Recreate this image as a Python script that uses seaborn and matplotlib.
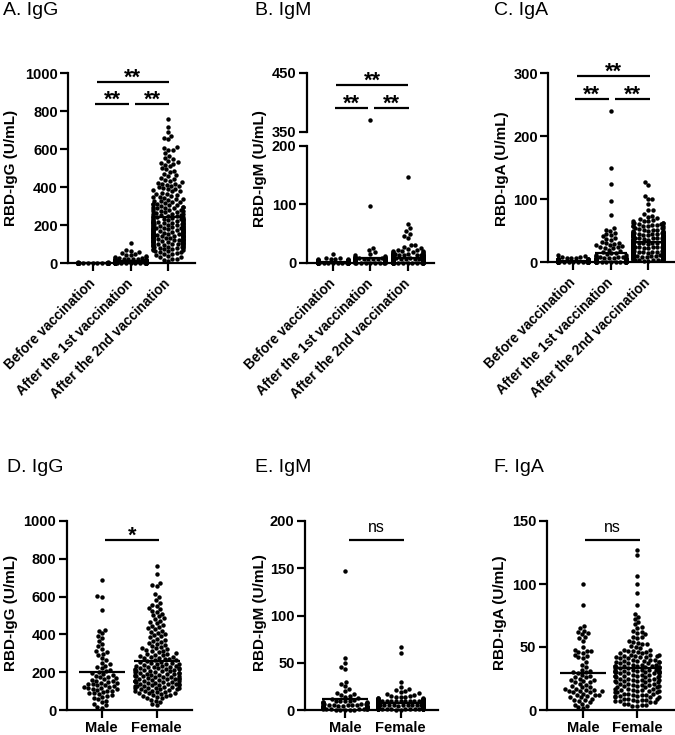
import numpy as np
import pandas as pd
import matplotlib
matplotlib.use("Agg")
import matplotlib.pyplot as plt
import seaborn as sns

# ---------------- data ----------------
time_labels = ["Before vaccination", "After the 1st vaccination", "After the 2nd vaccination"]
sex_labels = ["Male", "Female"]

igg_before = [1.2, 0.8, 2.1, 0.5, 1.6, 3.0, 0.9, 1.1, 2.4, 0.7,
              1.8, 0.6, 1.3, 2.7, 0.4, 1.0, 1.5, 2.2, 0.9, 3.4,
              0.3, 1.4, 2.0, 0.8, 1.1, 5.8, 0.6, 1.7, 2.5, 1.0,
              0.5, 1.2, 1.9, 0.7, 2.8, 1.3, 0.4, 1.6, 0.9, 2.3,
              1.1, 0.6, 3.8, 1.4, 0.8, 2.0, 0.5, 1.2, 1.7, 0.9,
              4.5, 1.0, 0.7, 2.6, 1.3, 0.4, 1.8, 1.1, 0.6, 2.1,
              0.9, 1.5, 3.1, 0.5, 1.2, 0.8, 2.4, 1.0, 0.3, 1.6,
              1.4, 0.7, 2.0, 1.1, 0.6, 2.9, 1.3, 0.9, 1.7, 0.5,
              1.0, 2.2, 0.8, 1.5, 0.4, 3.5, 1.2, 0.6, 1.9, 1.1,
              0.7, 1.4, 2.6, 0.9, 1.3, 0.5, 2.0, 1.0, 0.8, 4.1,
              1.6, 0.6, 1.2, 2.3, 0.9, 0.4, 1.8, 1.1, 0.7, 2.7,
              1.0, 1.5, 0.5, 2.1, 1.3, 0.8, 3.3, 0.6, 1.4, 0.9]
igg_first = [105, 72, 66, 60, 55, 50, 46, 42, 38, 35,
             32, 30, 28, 26, 25, 24, 22, 21, 20, 19,
             18, 18, 17, 16, 15, 15, 14, 14, 13, 13,
             12, 12, 12, 11, 11, 11, 10, 10, 10, 9.5,
             9, 9, 8.5, 8.5, 8, 8, 8, 7.5, 7.5, 7,
             7, 7, 6.5, 6.5, 6, 6, 6, 5.5, 5.5, 5.5,
             5, 5, 5, 4.8, 4.6, 4.5, 4.4, 4.2, 4, 4,
             3.8, 3.6, 3.5, 3.4, 3.3, 3.2, 3, 3, 2.9, 2.8,
             2.7, 2.6, 2.5, 2.5, 2.4, 2.3, 2.2, 2.1, 2, 2,
             1.9, 1.8, 1.7, 1.6, 1.5, 1.5, 1.4, 1.3, 1.2, 1.1,
             1, 1, 0.9, 0.9, 0.8, 0.8, 0.7, 0.6, 0.5, 0.4,
             9, 8, 7, 6, 5, 4, 3, 2.5, 2, 1.5]
igm_before = [15, 9, 8, 7, 6.5, 6, 5.5, 5, 5, 4.5,
              4.2, 4, 3.8, 3.5, 3.3, 3, 3, 2.8, 2.6, 2.5,
              2.4, 2.2, 2, 2, 1.9, 1.8, 1.7, 1.6, 1.5, 1.5,
              1.4, 1.3, 1.2, 1.1, 1.0, 1.0, 0.9, 0.8, 0.7, 0.6,
              2.1, 1.6, 0.9, 3.2, 1.4, 0.5, 2.7, 1.1, 0.8, 1.9,
              0.6, 1.3, 2.4, 0.4, 1.7, 3.6, 1.0, 0.7, 2.2, 1.2,
              4.8, 0.9, 1.5, 0.3, 2.0, 1.1, 0.6, 2.9, 1.4, 0.8,
              1.8, 0.5, 1.2, 3.9, 0.7, 1.6, 2.3, 0.9, 1.0, 0.4,
              2.6, 1.3, 0.6, 1.9, 5.6, 0.8, 1.5, 2.1, 0.5, 1.1,
              0.9, 3.1, 1.7, 0.6, 1.2, 2.5, 0.4, 1.4, 0.8, 2.0,
              1.0, 0.7, 4.4, 1.6, 0.5, 1.3, 2.8, 0.9, 1.1, 0.6,
              1.8, 0.4, 2.2, 1.0, 0.8, 3.4, 1.5, 0.6, 1.2, 7.5]
igm_first = [370, 97, 25, 22, 18, 15, 13, 12, 11, 10,
             9, 9, 8.5, 8, 8, 7.5, 7, 7, 6.5, 6.5,
             6, 6, 6, 5.5, 5.5, 5, 5, 5, 4.8, 4.6,
             4.5, 4.4, 4.2, 4, 4, 4, 3.8, 3.6, 3.5, 3.4,
             3.3, 3.2, 3, 3, 3, 2.9, 2.8, 2.7, 2.6, 2.5,
             2.5, 2.4, 2.3, 2.2, 2.1, 2, 2, 2, 1.9, 1.8,
             1.7, 1.6, 1.5, 1.5, 1.4, 1.3, 1.2, 1.1, 1, 1,
             0.9, 0.9, 0.8, 0.8, 0.7, 0.6, 0.5, 0.4, 0.3, 0.2,
             6, 5, 4.5, 4, 3.5, 3, 2.5, 2, 1.5, 1,
             7, 5.5, 4.2, 3.8, 3.1, 2.6, 2.2, 1.8, 1.4, 1.1,
             8, 6.2, 5.1, 4.3, 3.6, 2.9, 2.4, 1.9, 1.3, 0.8,
             10, 7.2, 5.8, 4.7, 3.9, 3.2, 2.7, 2.1, 1.6, 0.9]
iga_before = [12, 10, 9, 8, 7, 6.5, 6, 5.5, 5, 5,
              4.5, 4.2, 4, 3.8, 3.5, 3.3, 3, 3, 2.8, 2.6,
              2.5, 2.4, 2.2, 2, 2, 1.9, 1.8, 1.7, 1.6, 1.5,
              1.5, 1.4, 1.3, 1.2, 1.1, 1.0, 1.0, 0.9, 0.8, 0.7,
              2.1, 1.6, 0.9, 3.2, 1.4, 0.5, 2.7, 1.1, 0.8, 1.9,
              0.6, 1.3, 2.4, 0.4, 1.7, 3.6, 1.0, 0.7, 2.2, 1.2,
              4.8, 0.9, 1.5, 0.3, 2.0, 1.1, 0.6, 2.9, 1.4, 0.8,
              1.8, 0.5, 1.2, 3.9, 0.7, 1.6, 2.3, 0.9, 1.0, 0.4,
              2.6, 1.3, 0.6, 1.9, 5.2, 0.8, 1.5, 2.1, 0.5, 1.1,
              0.9, 3.1, 1.7, 0.6, 1.2, 2.5, 0.4, 1.4, 0.8, 2.0,
              1.0, 0.7, 4.4, 1.6, 0.5, 1.3, 2.8, 0.9, 1.1, 0.6,
              1.8, 0.4, 2.2, 1.0, 0.8, 3.4, 1.5, 0.6, 1.2, 7.5]
iga_first = [240, 150, 125, 97, 75, 55, 52, 50, 47, 45,
             43, 41, 39, 37, 35, 33, 31, 30, 29, 28,
             27, 26, 25, 24, 23, 22, 20, 18, 16, 15,
             14, 13, 12, 11, 10, 9, 9, 8, 8, 8,
             7, 7, 7, 6, 6, 6, 6, 5, 5, 5,
             5, 5, 4.5, 4.5, 4.5, 4, 4, 4, 4, 3.5,
             3.5, 3.5, 3.5, 3, 3, 3, 3, 3, 2.8, 2.6,
             2.5, 2.5, 2.4, 2.2, 2, 2, 2, 2, 1.9, 1.8,
             1.7, 1.6, 1.5, 1.5, 1.4, 1.3, 1.2, 1.1, 1, 1,
             0.9, 0.8, 0.7, 0.6, 0.5, 5, 4.8, 4.6, 4.4, 4.2,
             4, 3.8, 3.6, 3.4, 3.2, 3, 2.8, 2.6, 2.4, 2.2,
             2, 1.8, 1.6, 1.4, 1.2, 1, 0.9, 0.8, 0.7, 0.6]

igg_male = [690, 605, 598, 530, 425, 405, 392, 380, 365, 350,
            338, 322, 310, 305, 298, 290, 275, 262, 250, 242,
            235, 228, 220, 214, 208, 202, 196, 190, 185, 180,
            176, 172, 168, 164, 160, 156, 152, 148, 145, 142,
            139, 136, 133, 130, 127, 124, 121, 118, 115, 112,
            109, 106, 103, 100, 96, 92, 88, 84, 80, 75,
            70, 64, 58, 50, 42, 34, 25, 18, 12, 420]
igg_female = [762, 718, 672, 660, 655, 612, 598, 580, 565, 555,
              548, 540, 532, 525, 518, 510, 502, 495, 488, 480,
              472, 465, 458, 450, 444, 438, 432, 426, 420, 414,
              408, 402, 396, 390, 384, 378, 372, 366, 360, 355,
              350, 345, 340, 335, 330, 326, 322, 318, 314, 310,
              306, 302, 298, 295, 292, 289, 286, 283, 280, 277,
              274, 271, 268, 265, 262, 259, 256, 253, 250, 247,
              244, 241, 238, 235, 232, 229, 226, 223, 220, 217,
              214, 211, 208, 205, 202, 199, 196, 193, 190, 187,
              184, 181, 178, 175, 172, 169, 166, 163, 160, 157,
              154, 151, 148, 145, 142, 139, 136, 133, 130, 127,
              124, 121, 118, 115, 112, 109, 106, 103, 100, 97,
              94, 91, 88, 85, 82, 79, 76, 73, 70, 66,
              62, 55, 48, 40, 32, 25, 215, 205, 195, 185,
              178, 170, 162, 155, 148, 140, 132, 125, 118, 110,
              228, 218, 208, 198, 188, 176, 166, 156, 146, 136,
              245, 235, 224, 212, 182, 152, 128, 115, 102, 90]
igm_male = [147, 55, 50, 46, 43, 30, 28, 25, 22, 20,
            18, 17, 16, 15, 14, 13, 12, 11, 10, 10,
            9, 9, 8, 8, 8, 7, 7, 7, 6, 6,
            6, 6, 5, 5, 5, 5, 5, 4.5, 4.5, 4,
            4, 4, 4, 3.5, 3.5, 3.5, 3, 3, 3, 3,
            2.5, 2.5, 2.5, 2, 2, 2, 2, 1.8, 1.5, 1.5,
            1.2, 1, 1, 0.8, 0.8, 0.5, 0.5, 0.4, 0.3, 0.2]
igm_female = [67, 60, 30, 24, 22, 21, 20, 19, 18, 17,
              16, 15, 15, 14, 14, 13, 13, 12, 12, 12,
              11, 11, 11, 10, 10, 10, 10, 9, 9, 9,
              9, 9, 8, 8, 8, 8, 8, 8, 7, 7,
              7, 7, 7, 7, 7, 7, 6.5, 6.5, 6.5, 6.5,
              6, 6, 6, 6, 6, 6, 6, 5.5, 5.5, 5.5,
              5.5, 5.5, 5, 5, 5, 5, 5, 5, 5, 5,
              4.8, 4.8, 4.6, 4.6, 4.5, 4.5, 4.4, 4.4, 4.2, 4.2,
              4, 4, 4, 4, 4, 3.8, 3.8, 3.6, 3.6, 3.5,
              3.5, 3.5, 3.4, 3.4, 3.2, 3.2, 3, 3, 3, 3,
              2.8, 2.8, 2.7, 2.6, 2.5, 2.5, 2.5, 2.4, 2.3, 2.2,
              2.2, 2.1, 2, 2, 2, 1.9, 1.8, 1.8, 1.7, 1.6,
              1.6, 1.5, 1.5, 1.4, 1.4, 1.3, 1.2, 1.2, 1.1, 1,
              1, 0.9, 0.9, 0.8, 0.8, 0.7, 0.7, 0.6, 0.5, 0.4,
              14, 13, 12, 11, 10, 10, 9, 9, 8, 8,
              12, 11, 10, 9, 9, 8, 8, 7, 7, 6,
              11, 10, 9, 9, 8, 8, 7, 7, 6, 6]
iga_male = [100, 83, 67, 65, 63, 62, 61, 60, 58, 57,
            55, 50, 48, 47, 47, 46, 45, 44, 43, 42,
            41, 38, 36, 34, 32, 30, 28, 26, 24, 22,
            31, 30, 29, 27, 25, 23, 21, 19, 17, 15,
            26, 24, 22, 20, 18, 16, 14, 12, 10, 8,
            18, 17, 16, 15, 14, 13, 12, 11, 10, 9,
            8, 7, 6, 5, 4, 3, 2, 1.5, 12, 15]
iga_female = [127, 123, 106, 100, 93, 83, 76, 74, 72, 70,
              68, 66, 65, 63, 61, 60, 58, 57, 55, 54,
              53, 52, 51, 50, 49, 48, 47, 46, 45, 44,
              44, 43, 42, 42, 41, 40, 40, 39, 38, 38,
              37, 37, 36, 36, 35, 35, 34, 34, 33, 33,
              32, 32, 31, 31, 30, 30, 30, 29, 29, 29,
              28, 28, 28, 27, 27, 27, 26, 26, 26, 25,
              25, 25, 24, 24, 24, 23, 23, 23, 22, 22,
              22, 21, 21, 21, 20, 20, 20, 19, 19, 19,
              18, 18, 18, 17, 17, 17, 16, 16, 16, 15,
              15, 15, 14, 14, 14, 13, 13, 13, 12, 12,
              12, 11, 11, 11, 10, 10, 10, 9, 9, 9,
              8, 8, 8, 7, 7, 7, 6, 6, 5, 5,
              4, 4, 3.5, 3, 30, 31, 32, 33, 34, 35,
              48, 46, 44, 42, 40, 38, 36, 34, 32, 30,
              45, 43, 41, 39, 37, 35, 33, 31, 29, 27,
              62, 58, 52, 47, 43, 39, 35, 31, 27, 24]

# ---------------- style ----------------
LW = 1.6
plt.rcParams.update({
    "font.family": ["Liberation Sans", "DejaVu Sans"],
    "font.weight": "bold",
    "axes.linewidth": LW,
})

W, H = 675, 735
fig = plt.figure(figsize=(W / 100, H / 100), dpi=100)


def px_axes(x0, x1, ytop, ybot):
    return fig.add_axes([x0 / W, 1 - ybot / H, (x1 - x0) / W, (ybot - ytop) / H])


def make_df(groups, labels):
    return pd.DataFrame({
        "group": np.repeat(labels, [len(g) for g in groups]),
        "value": np.concatenate([np.asarray(g, float) for g in groups]),
    })


def draw_panel(ax, groups, labels, ylim, yticks, xlim, means=True):
    df = make_df(groups, labels)
    # only the points that fall inside this axis' range are drawn here
    df = df[(df["value"] >= ylim[0]) & (df["value"] <= ylim[1])]
    sns.swarmplot(data=df, x="group", y="value", order=labels, color="black",
                  size=3.2, warn_thresh=1.0, ax=ax, zorder=3, clip_on=False)
    if means:
        for i, g in enumerate(groups):
            m = float(np.mean(g))
            ax.plot([i - 0.42, i + 0.42], [m, m], color="black", lw=1.6,
                    solid_capstyle="butt", zorder=4)
    ax.set_ylim(*ylim)
    ax.set_xlim(*xlim)
    ax.set_yticks(yticks)
    ax.set_xlabel("")
    ax.set_ylabel("")
    for s in ["top", "right"]:
        ax.spines[s].set_visible(False)
    ax.tick_params(axis="both", width=LW, length=6, labelsize=10.5, pad=1.5)
    ax.set_facecolor("none")


def rotate_labels(ax, labels):
    ax.set_xticks(range(len(labels)))
    ax.set_xticklabels(labels, rotation=45, ha="right", va="center",
                       rotation_mode="anchor", fontsize=9.8)
    ax.tick_params(axis="x", pad=7)


def bracket(ax, x0, x1, y, text, dy=-1.5, fs=15.5, weight="bold"):
    ax.plot([x0, x1], [y, y], color="black", lw=1.6, clip_on=False,
            solid_capstyle="butt")
    ax.annotate(text, xy=((x0 + x1) / 2, y), xytext=(0, dy),
                textcoords="offset points", ha="center", va="baseline",
                fontsize=fs, fontweight=weight, annotation_clip=False)


# ---------------- top row ----------------
igg_second = igg_male + igg_female
igm_second = igm_male + igm_female
iga_second = iga_male + iga_female

axA = px_axes(68.3, 195, 73.3, 263.3)
draw_panel(axA, [igg_before, igg_first, igg_second], time_labels,
           (0, 1000), [0, 200, 400, 600, 800, 1000], (-0.65, 2.71))
rotate_labels(axA, time_labels)
bracket(axA, 0.06, 0.96, 838, "**")
bracket(axA, 1.12, 2.02, 838, "**")
bracket(axA, 0.10, 2.02, 956, "**")

axB = px_axes(306.7, 434, 145.7, 263)
draw_panel(axB, [igm_before, igm_first, igm_second], time_labels,
           (0, 200), [0, 100, 200], (-0.70, 2.70))
rotate_labels(axB, time_labels)

axB2 = px_axes(306.7, 434, 72.7, 131.7)
draw_panel(axB2, [igm_before, igm_first, igm_second], time_labels,
           (350, 450), [350, 450], (-0.70, 2.70), means=False)
axB2.spines["bottom"].set_visible(False)
axB2.tick_params(axis="x", bottom=False, labelbottom=False)
bracket(axB2, 0.05, 0.95, 391, "**")
bracket(axB2, 1.11, 2.02, 391, "**")
bracket(axB2, 0.09, 2.00, 429, "**")

axC = px_axes(548.3, 675, 73.3, 262.3)
draw_panel(axC, [iga_before, iga_first, iga_second], time_labels,
           (0, 300), [0, 100, 200, 300], (-0.67, 2.71))
rotate_labels(axC, time_labels)
bracket(axC, 0.03, 0.95, 260, "**")
bracket(axC, 1.11, 2.03, 260, "**")
bracket(axC, 0.09, 2.03, 295.7, "**")

# ---------------- bottom row ----------------
def sex_ticks(ax):
    ax.set_xticks([0, 1])
    ax.set_xticklabels(sex_labels, fontsize=10.5)
    ax.tick_params(axis="x", pad=2)

axD = px_axes(66.7, 191.7, 521, 710)
draw_panel(axD, [igg_male, igg_female], sex_labels,
           (0, 1000), [0, 200, 400, 600, 800, 1000], (-0.64, 1.64))
sex_ticks(axD)
bracket(axD, 0.06, 1.04, 899, "*")

axE = px_axes(305, 438.3, 521, 710)
draw_panel(axE, [igm_male, igm_female], sex_labels,
           (0, 200), [0, 50, 100, 150, 200], (-0.72, 1.68))
sex_ticks(axE)
bracket(axE, 0.07, 1.06, 180, "ns", dy=5.5, fs=11.5, weight="normal")

axF = px_axes(546.7, 675, 521, 710)
draw_panel(axF, [iga_male, iga_female], sex_labels,
           (0, 150), [0, 50, 100, 150], (-0.67, 1.70))
sex_ticks(axF)
bracket(axF, 0.04, 1.06, 135, "ns", dy=5.5, fs=11.5, weight="normal")

# ---------------- labels & titles ----------------
def ylab(x, y, text):
    fig.text(x / W, 1 - y / H, text, rotation=90, ha="center", va="center",
             fontsize=11, fontweight="bold")

ylab(11, 168.3, "RBD-IgG (U/mL)")
ylab(260, 168.3, "RBD-IgM (U/mL)")
ylab(501.7, 168.3, "RBD-IgA (U/mL)")
ylab(11, 612.5, "RBD-IgG (U/mL)")
ylab(260, 612.5, "RBD-IgM (U/mL)")
ylab(500, 612.5, "RBD-IgA (U/mL)")

def title(x, y, text):
    fig.text(x / W, 1 - y / H, text, ha="left", va="baseline",
             fontsize=14, fontweight="normal")

title(3, 15, "A. IgG")
title(255, 15, "B. IgM")
title(494.3, 15, "C. IgA")
title(6.7, 471.7, "D. IgG")
title(255, 471.7, "E. IgM")
title(494.3, 471.7, "F. IgA")

fig.savefig("out.png", dpi=100)
